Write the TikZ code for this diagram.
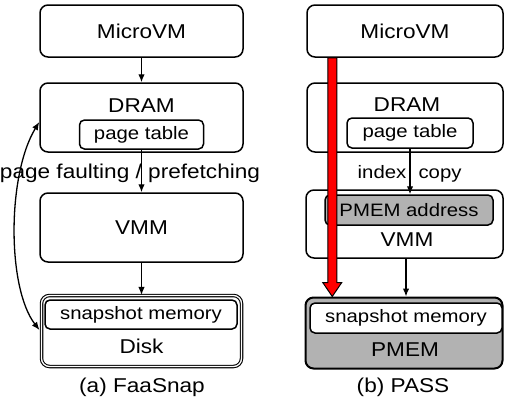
\documentclass[tikz,border=0pt]{standalone}
\usepackage{fontspec}
\setmainfont{Liberation Sans}[FakeStretch=1.13]
\usetikzlibrary{arrows.meta,calc}
\definecolor{pgray}{RGB}{178,178,178}
\begin{document}
\begin{tikzpicture}[x=1pt,y=-1pt,
 box/.style={draw, line width=1.5pt, rounded corners=8pt, inner sep=0pt},
 sub/.style={draw, line width=1.5pt, rounded corners=5pt, inner sep=0pt},
 big/.style={font=\fontsize{20}{24}\selectfont},
 small/.style={font=\fontsize{18}{22}\selectfont},
 tipA/.tip={Latex[length=8pt,width=6.5pt]},
 conn/.style={line width=1.3pt, -tipA},
]
\useasboundingbox (0,0) rectangle (505,402);
% ---------- left: FaaSnap ----------
\node[box, minimum width=203pt, minimum height=52pt, big] (micL) at (141.5,31) {MicroVM};
\node[box, minimum width=203pt, minimum height=69pt] (dramL) at (141.5,117.5) {};
\node[big] (dramLt) at (141.5,106) {DRAM};
\node[sub, minimum width=124pt, minimum height=29pt, small] (ptL) at (141.5,134.5) {page table};
\node[box, minimum width=203pt, minimum height=69pt, big] (vmmL) at (141.5,227.5) {VMM};
\node[box, double, line width=1.1pt, double distance=1.3pt, minimum width=200pt, minimum height=71pt] (diskL) at (141.5,331) {};
\node[sub, minimum width=192pt, minimum height=29pt, small] (snapL) at (141,314.5) {snapshot memory};
\node[big] (diskLt) at (141.5,346) {Disk};
\node[big] (capL) at (142,387) {(a) FaaSnap};
\node[big, anchor=base] (pfL) at (130,178) {page faulting / prefetching};
\draw[conn] (micL) -- (dramL);
\draw[conn] (ptL.south) -- (ptL.south |- vmmL.north);
\draw[conn] (vmmL) -- (diskL);
\draw[line width=1.3pt, tipA-tipA] ($(diskL.west)+(-1.5,-1)$) .. controls (7,288) and (7,175) .. ($(dramL.west)+(0,4.5)$);
% ---------- right: PASS ----------
\node[box, minimum width=196pt, minimum height=52pt, big] (micR) at (405,31) {MicroVM};
\node[box, minimum width=196pt, minimum height=69pt] (dramR) at (405,117.5) {};
\node[big] (dramRt) at (407,105) {DRAM};
\node[sub, minimum width=126pt, minimum height=30pt, small] (ptR) at (410,133) {page table};
\node[box, minimum width=197pt, minimum height=68pt] (vmmR) at (404.5,224) {};
\node[sub, fill=pgray, minimum width=168pt, minimum height=30pt, small] (pmaddr) at (409,210) {PMEM address};
\node[big] (vmmRt) at (407,240) {VMM};
\node[box, fill=pgray, line width=2pt, minimum width=197pt, minimum height=71pt] (pmemR) at (404,333) {};
\node[sub, fill=white, minimum width=192pt, minimum height=30pt, small] (snapR) at (406,318) {snapshot memory};
\node[big] (pmemRt) at (405,350) {PMEM};
\node[big] (capR) at (403,387) {(b) PASS};
\node[small, anchor=base] (idx) at (382,178) {index};
\node[small, anchor=base] (cpy) at (440,178) {copy};
\draw[conn] (ptR.south) -- (ptR.south |- pmaddr.north);
\coordinate (vs) at ($(vmmR.south)+(1.5,0)$);
\draw[conn] (vs) -- (vs |- pmemR.north);
% red arrow
\coordinate (rs) at ($(micR.south west)+(26,0)$);
\coordinate (re) at (rs |- pmemR.north);
\draw[line width=1pt, fill=red, line join=miter]
  ($(rs)+(-4.5,0)$) -- ($(re)+(-4.5,-14)$) -- ($(re)+(-9.5,-14)$) -- (re)
  -- ($(re)+(9.5,-14)$) -- ($(re)+(4.5,-14)$) -- ($(rs)+(4.5,0)$) -- cycle;
\end{tikzpicture}
\end{document}
